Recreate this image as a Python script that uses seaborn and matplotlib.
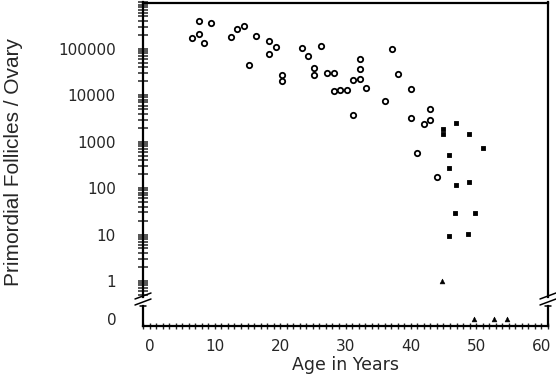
import numpy as np
import pandas as pd
import matplotlib
matplotlib.use("Agg")
import matplotlib.pyplot as plt
import matplotlib.ticker as mticker
from matplotlib.lines import Line2D
import seaborn as sns

# open circles
circle_age = [6.5, 7.5, 7.5, 8.4, 9.4, 12.4, 13.4, 14.4, 15.3, 16.3, 18.3, 18.3,
              19.4, 20.3, 20.3, 23.3, 24.3, 25.2, 25.2, 26.3, 27.2, 28.2, 28.2,
              29.2, 30.2, 31.2, 31.2, 32.2, 32.2, 32.2, 33.1, 36.1, 37.1, 38.1,
              40.0, 40.0, 41.0, 42.0, 43.0, 43.0, 44.0]
circle_count = [168000, 396000, 212000, 136000, 359000, 179000, 267000, 305000,
                44200, 192000, 147000, 76200, 108000, 27300, 20000, 104000, 70000,
                38100, 27300, 115000, 30200, 30200, 12200, 13000, 13000, 21000,
                3720, 61500, 37500, 22900, 14400, 7430, 101000, 28700, 13700,
                3310, 557, 2410, 5170, 3000, 177]

# filled squares
square_age = [44.9, 44.9, 46.9, 48.9, 51.0, 45.9, 45.9, 46.9, 48.9, 46.8, 49.9, 45.85, 48.8]
square_count = [1920, 1450, 2500, 1470, 736, 513, 265, 118, 137, 29.4, 29.4, 9.1, 10.3]

# triangles
triangle_age = [44.8, 49.7, 52.7, 54.7]
triangle_count = [1, 0, 0, 0]

ytick_vals = [1, 10, 100, 1000, 10000, 100000, 1000000]
ytick_labels = ["1", "10", "100", "1000", "10000", "100000", ""]
xtick_vals = [0, 10, 20, 30, 40, 50, 60]

sns.set_style("white")
plt.rcParams["font.family"] = ["DejaVu Sans"]

W, H = 556, 376
fig = plt.figure(figsize=(W / 100, H / 100), dpi=100)

def fx(px):
    return px / W

def fy(py):
    return 1 - py / H

left, right = 143, 548
ax = fig.add_axes([fx(left), fy(297), fx(right - left), fy(2.5) - fy(297)])
ax0 = fig.add_axes([fx(left), fy(325.5), fx(right - left), fy(306) - fy(325.5)])

circles = pd.DataFrame({"age": circle_age, "count": circle_count})
squares = pd.DataFrame({"age": square_age, "count": square_count})
tri = pd.DataFrame({"age": triangle_age, "count": triangle_count})

sns.scatterplot(data=circles, x="age", y="count", ax=ax, marker="o", s=15,
                facecolor="white", edgecolor="black", linewidth=1.3, zorder=3)
sns.scatterplot(data=squares, x="age", y="count", ax=ax, marker="s", s=12,
                color="black", edgecolor="black", linewidth=0.6, zorder=3)
sns.scatterplot(data=tri[tri["count"] > 0], x="age", y="count", ax=ax, marker="^",
                s=12, color="black", edgecolor="black", linewidth=0.4, zorder=3)
sns.scatterplot(data=tri[tri["count"] == 0], x="age", y="count", ax=ax0, marker="^",
                s=12, color="black", edgecolor="black", linewidth=0.4, zorder=3,
                clip_on=False)

for a in (ax, ax0):
    a.set_xlim(-1, 61)
    a.set_xlabel("")
    a.set_ylabel("")
    for s in a.spines.values():
        s.set_linewidth(1.6)
        s.set_color("black")

# upper (log) panel
ax.set_yscale("log")
ax.set_ylim(0.45, 1e6)
ax.spines["bottom"].set_visible(False)
ax.set_yticks(ytick_vals)
ax.set_yticklabels(ytick_labels)
ax.yaxis.set_minor_locator(mticker.LogLocator(base=10, subs=np.arange(2, 10)))
ax.yaxis.set_minor_formatter(mticker.NullFormatter())
ax.tick_params(axis="y", which="both", direction="inout", length=7, width=1.1,
               labelsize=11, pad=16, left=True, right=False)
ax.tick_params(axis="x", which="both", bottom=False, labelbottom=False)

# lower (zero) panel
ax0.set_ylim(-1, 1.87)
ax0.spines["top"].set_visible(False)
ax0.set_yticks([0])
ax0.set_yticklabels(["0"])
ax0.tick_params(axis="y", length=0, labelsize=11, pad=19)
ax0.set_xticks(xtick_vals)
ax0.xaxis.set_minor_locator(mticker.MultipleLocator(1))
ax0.tick_params(axis="x", which="both", direction="inout", length=5, width=1.0,
                labelsize=11, pad=7, bottom=True)
ax0.set_xlabel("Age in Years", fontsize=12.5, labelpad=2)

# axis break marks
for xs in (left, right):
    for yb in (296, 302):
        fig.add_artist(Line2D([fx(xs - 8), fx(xs + 8)], [fy(yb + 3), fy(yb - 3)],
                              color="black", lw=1.1))
    fig.add_artist(Line2D([fx(xs - 3), fx(xs + 3)], [fy(306), fy(306)],
                          color="black", lw=1.1))

fig.text(fx(14), fy(162), "Primordial Follicles / Ovary", rotation=90,
         ha="center", va="center", fontsize=15, family=["Liberation Sans"])

fig.savefig("out.png", dpi=100)
